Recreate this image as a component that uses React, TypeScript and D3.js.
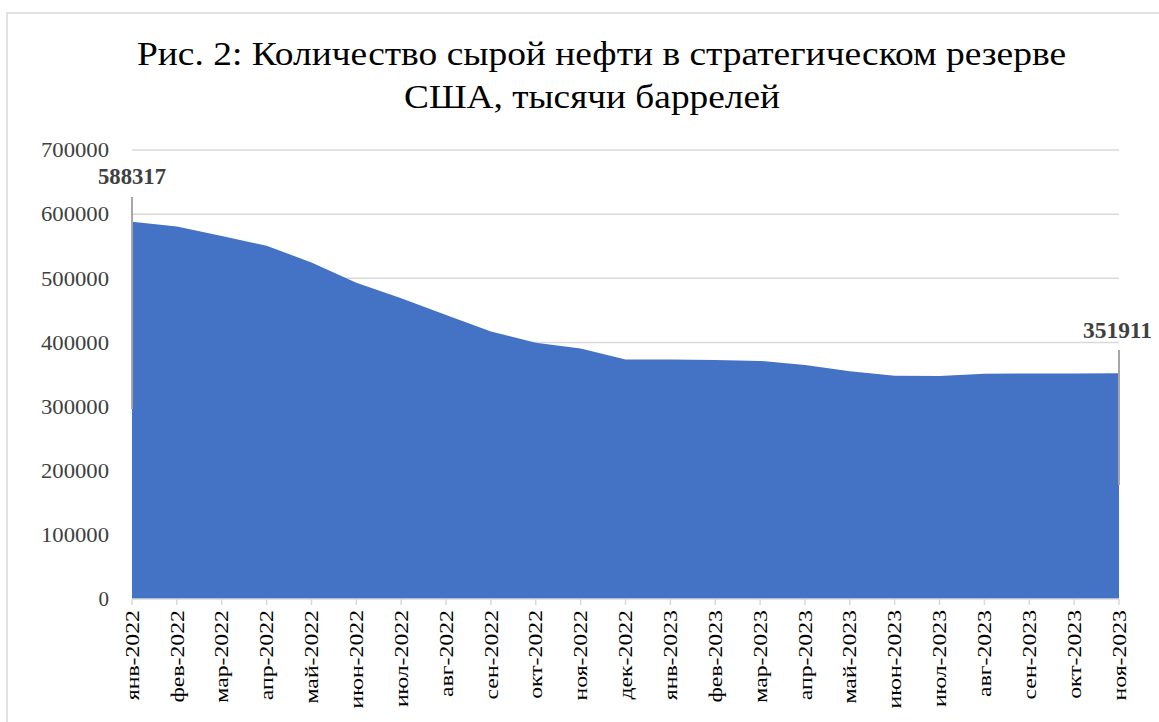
import React from "react";
import * as d3 from "d3";

const months = [
  "янв-2022", "фев-2022", "мар-2022", "апр-2022", "май-2022", "июн-2022",
  "июл-2022", "авг-2022", "сен-2022", "окт-2022", "ноя-2022", "дек-2022",
  "янв-2023", "фев-2023", "мар-2023", "апр-2023", "май-2023", "июн-2023",
  "июл-2023", "авг-2023", "сен-2023", "окт-2023", "ноя-2023",
];
const reserve = [
  588317, 580900, 566100, 550600, 524800, 493000, 469000, 442600, 417000,
  399500, 390400, 373500, 373500, 372800, 371200, 364900, 355000, 348000,
  347800, 351000, 351700, 351700, 351911,
];
const yTicks = [0, 100000, 200000, 300000, 400000, 500000, 600000, 700000];
const titleLines = [
  "Рис. 2: Количество сырой нефти в стратегическом резерве",
  "США, тысячи баррелей",
];

const W = 1159;
const H = 722;
const left = 132;
const right = 1119;
const top = 150;
const bottom = 599;

export default function App() {
  const x = d3.scalePoint<string>().domain(months).range([left, right]);
  const y = d3.scaleLinear().domain([0, 700000]).range([bottom, top]);
  const area = d3
    .area<number>()
    .x((_, i) => x(months[i]) as number)
    .y0(y(0))
    .y1((d) => y(d));
  const serif = "'Liberation Serif', 'Times New Roman', serif";
  const firstX = x(months[0]) as number;
  const lastX = x(months[months.length - 1]) as number;
  return (
    <svg
      width={W}
      height={H}
      style={{ position: "absolute", left: 0, top: 0, background: "#fff" }}
      fontFamily={serif}
    >
      <rect x={7} y={13} width={W} height={H} fill="#fff" stroke="#d9d9d9" strokeWidth={1.5} />
      {titleLines.map((t, i) => (
        <text
          key={i}
          x={i === 0 ? 137 : 404}
          y={i === 0 ? 65 : 108}
          fontSize={33}
          fill="#000"
          textLength={i === 0 ? 929 : 376}
          lengthAdjust="spacingAndGlyphs"
        >
          {t}
        </text>
      ))}
      {yTicks.map((t) => (
        <g key={t}>
          {t > 0 && (
            <line x1={left} x2={right} y1={y(t)} y2={y(t)} stroke="#d9d9d9" strokeWidth={1.5} />
          )}
          <text
            x={109}
            y={y(t)}
            dy="0.35em"
            textAnchor="end"
            fontSize={21}
            fill="#404040"
            textLength={t === 0 ? undefined : 68}
            lengthAdjust="spacingAndGlyphs"
          >
            {t}
          </text>
        </g>
      ))}
      <path d={area(reserve) || ""} fill="#4472c4" />
      <line x1={left} x2={right} y1={bottom} y2={bottom} stroke="#d9d9d9" strokeWidth={1.5} />
      {months.map((m) => (
        <g key={m} transform={`translate(${x(m)},${bottom})`}>
          <line y1={0} y2={6} stroke="#d9d9d9" strokeWidth={1.5} />
          <text
            transform="translate(0,11) rotate(-90) scale(1.25,1)"
            textAnchor="end"
            dy="0.35em"
            fontSize={19}
            fill="#000"
          >
            {m}
          </text>
        </g>
      ))}
      <line x1={firstX} x2={firstX} y1={197} y2={409} stroke="#a6a6a6" strokeWidth={2} />
      <line x1={lastX} x2={lastX} y1={350} y2={485} stroke="#a6a6a6" strokeWidth={2} />
      <text
        x={firstX}
        y={184}
        textAnchor="middle"
        fontSize={23}
        fontWeight="bold"
        fill="#404040"
        textLength={68}
        lengthAdjust="spacingAndGlyphs"
      >
        {reserve[0]}
      </text>
      <text
        x={lastX - 36}
        y={338}
        fontSize={23}
        fontWeight="bold"
        fill="#404040"
        textLength={69}
        lengthAdjust="spacingAndGlyphs"
        textAnchor="start"
      >
        {reserve[reserve.length - 1]}
      </text>
    </svg>
  );
}
